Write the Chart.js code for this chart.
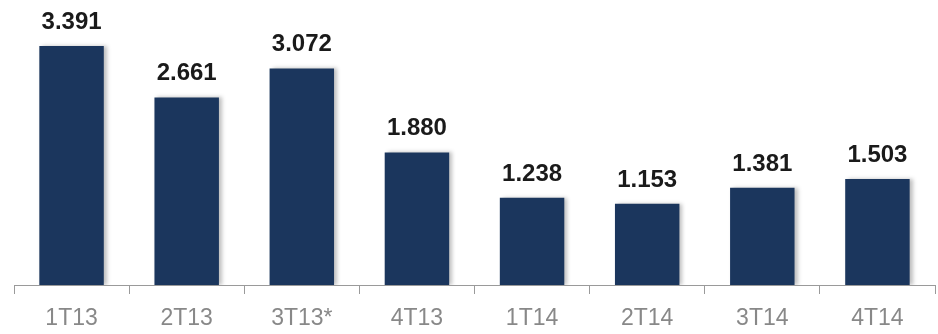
<!DOCTYPE html>
<html>
<head>
<meta charset="utf-8">
<script src="https://cdn.jsdelivr.net/npm/chart.js@4"></script>
<style>
  body { margin: 0; background: #fff; }
  #wrap { width: 938px; height: 334px; position: relative; }
</style>
</head>
<body>
<div id="wrap"><canvas id="chart"></canvas></div>
<script>
const quarters = ['1T13', '2T13', '3T13*', '4T13', '1T14', '2T14', '3T14', '4T14'];
const values = [3.391, 2.661, 3.072, 1.880, 1.238, 1.153, 1.381, 1.503];
const valueLabels = ['3.391', '2.661', '3.072', '1.880', '1.238', '1.153', '1.381', '1.503'];

// value labels above each bar
const barLabels = {
    id: 'barLabels',
    afterDatasetsDraw(chart) {
        const ctx = chart.ctx;
        const meta = chart.getDatasetMeta(0);
        ctx.save();
        ctx.font = 'bold 24px "Liberation Sans", Arial, sans-serif';
        ctx.fillStyle = '#1a1a1a';
        ctx.textAlign = 'center';
        ctx.textBaseline = 'alphabetic';
        meta.data.forEach((bar, i) => {
            ctx.fillText(valueLabels[i], bar.x, bar.y - 17);
        });
        ctx.restore();
    }
};

// soft shadow on the right of the bars
const barShadow = {
    id: 'barShadow',
    beforeDatasetDraw(chart) {
        const ctx = chart.ctx;
        ctx.save();
        ctx.shadowColor = 'rgba(0,0,0,0.25)';
        ctx.shadowBlur = 4;
        ctx.shadowOffsetX = 3;
        ctx.shadowOffsetY = 0;
    },
    afterDatasetDraw(chart) {
        chart.ctx.restore();
    }
};

new Chart(document.getElementById('chart'), {
    type: 'bar',
    data: {
        labels: quarters,
        datasets: [{
            data: values,
            backgroundColor: '#1b365d',
            borderWidth: 0,
            categoryPercentage: 1,
            barPercentage: 0.56
        }]
    },
    options: {
        responsive: true,
        maintainAspectRatio: false,
        animation: false,
        layout: { padding: { top: 3, left: 14, right: 3, bottom: 0 } },
        plugins: {
            legend: { display: false },
            tooltip: { enabled: false }
        },
        scales: {
            x: {
                afterFit(scale) { scale.height = 49; },
                border: { display: true, color: '#9a9a9a', width: 1 },
                grid: {
                    display: true,
                    offset: true,
                    drawOnChartArea: false,
                    drawTicks: true,
                    tickLength: 9,
                    color: '#9a9a9a'
                },
                ticks: {
                    color: '#888888',
                    padding: 13,
                    font: { family: '"Liberation Sans", Arial, sans-serif', size: 23, lineHeight: 1 }
                }
            },
            y: {
                display: false,
                min: 0,
                max: 4
            }
        }
    },
    plugins: [barShadow, barLabels]
});
</script>
</body>
</html>
